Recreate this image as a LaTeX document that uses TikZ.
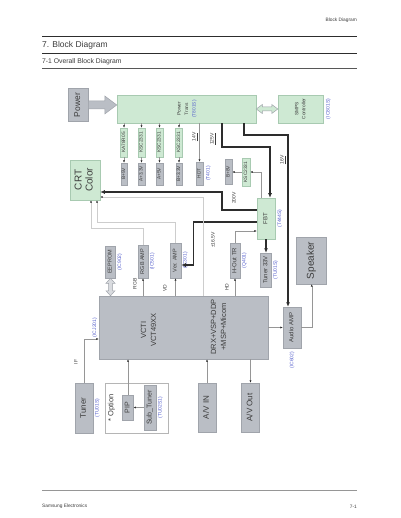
\documentclass[tikz,border=0pt]{standalone}
\usepackage{fontspec}
\setmainfont{Liberation Sans}
\usepackage{graphicx}
\usetikzlibrary{arrows.meta,positioning,calc}
\definecolor{boxgray}{RGB}{186,190,197}
\definecolor{gedge}{RGB}{160,164,171}
\definecolor{boxgreen}{RGB}{206,233,211}
\definecolor{gredge}{RGB}{168,202,177}
\definecolor{icblue}{RGB}{88,98,205}
\definecolor{linedark}{RGB}{45,45,45}
\definecolor{linegray}{RGB}{150,150,150}
\definecolor{linelight}{RGB}{205,205,205}
\definecolor{txtgray}{RGB}{60,60,60}
\newcommand{\vtxt}[1]{\rotatebox{90}{\begin{tabular}{@{}c@{}}#1\end{tabular}}}
\newcommand{\fsz}[2]{\fontsize{#1}{#2}\selectfont}
\tikzset{
  gbox/.style={draw=gedge, fill=boxgray, inner sep=0pt, text=txtgray, line width=0.5pt},
  grbox/.style={draw=gredge, fill=boxgreen, inner sep=0pt, text=txtgray, line width=0.5pt},
  ic/.style={rotate=90, text=icblue, inner sep=0pt, font=\fsz{5}{6}},
  vlab/.style={rotate=90, text=txtgray, inner sep=0pt, font=\fsz{5}{6}},
  bigtxt/.style={text=txtgray, inner sep=0pt, font=\fsz{7.5}{10}},
  thk/.style={-{Latex[length=4.5pt,width=4pt]}, linedark, line width=1.1pt},
  thn/.style={-{Latex[length=2.4pt,width=2pt,color=linedark]}, linegray, line width=0.4pt},
  lit/.style={-{Latex[length=2.4pt,width=2pt,color=linedark]}, linelight, line width=0.5pt},
  fatarr/.style={fill=boxgray, draw=gedge, line width=0.5pt},
  dblgr/.style={fill=boxgreen, draw=gedge, line width=0.5pt},
  dblgy/.style={fill=boxgray!55, draw=gedge, line width=0.5pt},
}

\begin{document}
\begin{tikzpicture}[x=1pt, y=-1pt]
  \useasboundingbox[fill=white] (0,0) rectangle (400,518);
  % page head
  \node[anchor=east, inner sep=0pt, text=txtgray, font=\fsz{4.8}{5}] (hdr) at (357,20.5) {Block Diagram};
  \draw[linedark, line width=1.6pt] (42,36.5) -- (357,36.5);
  \node[anchor=west, inner sep=0pt, text=txtgray, font=\fsz{8.5}{9}] (ttl) at (42,45.5) {7. Block Diagram};
  \draw[linedark, line width=0.7pt] (42,53) -- (357,53);
  \node[anchor=west, inner sep=0pt, text=txtgray, font=\fsz{6.8}{7}] (sttl) at (42,61.5) {7-1 Overall Block Diagram};
  \draw[linedark!80, line width=1pt] (42,69) -- (357,69);
  % page foot
  \draw[linegray, line width=0.7pt] (42,490.5) -- (357,490.5);
  \node[anchor=west, inner sep=0pt, text=txtgray, font=\fsz{4.8}{5}] (ftl) at (42,506.5) {Samsung Electronics};
  \node[anchor=east, inner sep=0pt, text=txtgray, font=\fsz{4.8}{5}] (ftr) at (357,506.5) {7-1};

  % power section
  \node[gbox, minimum width=20, minimum height=33, font=\fsz{8.5}{10}] (pwr) at (78,105) {\vtxt{Power}};
  \node[grbox, minimum width=139, minimum height=28, font=\fsz{4.8}{7.5}] (ptr) at (186.5,109) {\vtxt{Power\\Trans\\\textcolor{icblue}{(T801S)}}};
  \node[grbox, minimum width=45, minimum height=28, font=\fsz{4.8}{7}] (smps) at (300.5,109) {\vtxt{SMPS\\Controller}};
  \node[ic] (smps-ic) at ([xshift=5]smps.east) {(IC801S)};
  \coordinate (pa0) at (pwr.east);
  \coordinate (pa1) at (ptr.west |- pwr.east);
  \draw[fatarr] ($(pa0)+(0,-4)$) -- ($(pa1)+(-12,-4)$) -- ($(pa1)+(-12,-9)$) -- (pa1)
    -- ($(pa1)+(-12,9)$) -- ($(pa1)+(-12,4)$) -- ($(pa0)+(0,4)$) -- cycle;
  \coordinate (da0) at (ptr.east);
  \coordinate (da1) at (smps.west);
  \draw[dblgr] (da0) -- ($(da0)+(6,-4.5)$) -- ($(da0)+(6,-2)$) -- ($(da1)+(-6,-2)$) -- ($(da1)+(-6,-4.5)$)
    -- (da1) -- ($(da1)+(-6,4.5)$) -- ($(da1)+(-6,2)$) -- ($(da0)+(6,2)$) -- ($(da0)+(6,4.5)$) -- cycle;

  % regulators
  \node[grbox, minimum width=7, minimum height=29, font=\fsz{4.8}{5}] (rg1) at (124,142.5) {\vtxt{KA78R05}};
  \node[grbox, minimum width=7, minimum height=29, font=\fsz{4.8}{5}] (rg2) at (141.5,142.5) {\vtxt{KSC2331}};
  \node[grbox, minimum width=7, minimum height=29, font=\fsz{4.8}{5}] (rg3) at (159.5,142.5) {\vtxt{KSC2331}};
  \node[grbox, minimum width=7, minimum height=29, font=\fsz{4.8}{5}] (rg4) at (179,142.5) {\vtxt{KSC2331}};
  \node[gbox, minimum width=6.5, minimum height=22, font=\fsz{4.8}{5}] (o1) at (124,174) {\vtxt{B+5V}};
  \node[gbox, minimum width=6.5, minimum height=22, font=\fsz{4.8}{5}] (o2) at (141.5,174) {\vtxt{A+3.3V}};
  \node[gbox, minimum width=6.5, minimum height=22, font=\fsz{4.8}{5}] (o3) at (159.5,174) {\vtxt{A+5V}};
  \node[gbox, minimum width=6.5, minimum height=22, font=\fsz{4.8}{5}] (o4) at (179,174) {\vtxt{B+3.3V}};
  \draw[thn] (ptr.south -| rg1) -- (rg1);
  \draw[thn] (ptr.south -| rg2) -- (rg2);
  \draw[thn] (ptr.south -| rg3) -- (rg3);
  \draw[thn] (ptr.south -| rg4) -- (rg4);
  \draw[thn] (rg1) -- (o1);
  \draw[thn] (rg2) -- (o2);
  \draw[thn] (rg3) -- (o3);
  \draw[thn] (rg4) -- (o4);
  \node[gbox, minimum width=7, minimum height=23, font=\fsz{4.8}{5}] (hdt) at (199.5,173.5) {\vtxt{HDT}};
  \node[ic] (hdt-ic) at ([xshift=5]hdt.east) {(T401)};
  \draw[thn] (ptr.south -| hdt) -- (hdt);
  \node[vlab] (v14) at (195,137) {\underline{14V}};
  \node[vlab] (v125) at (213,139) {\underline{125V}};
  \node[vlab] (v16) at (283,160) {\underline{16V}};

  % FBT section
  \node[gbox, minimum width=7, minimum height=25, font=\fsz{4.8}{5}] (b8) at (228.5,172) {\vtxt{B+8V}};
  \node[grbox, minimum width=8, minimum height=28, font=\fsz{4.8}{5}] (k8) at (246,172) {\vtxt{KSC2331}};
  \node[grbox, minimum width=18, minimum height=41, font=\fsz{6}{7}] (fbt) at (266,218.5) {\vtxt{FBT}};
  \node[ic] (fbt-ic) at ([xshift=4.5]fbt.east) {(T444S)};
  \draw[thn] (k8) -- (b8);
  \draw[thn] ([xshift=-4.5]fbt.north) |- (k8);
  \node[vlab] (v200) at (234,198) {200V};
  \draw[thk] (ptr.south -| 222,0) |- (270,147) -- (fbt.north -| 270,0);
  \node[gbox, minimum width=10.7, minimum height=34, font=\fsz{6}{7}] (tun33) at (266,270) {\vtxt{Tuner 33V}};
  \node[ic] (tun33-ic) at ([xshift=4]tun33.east) {(TU01S)};
  \draw[thk] (fbt) -- (tun33);
  \node[gbox, minimum width=10, minimum height=35, font=\fsz{6}{7}] (hout) at (235,260.5) {\vtxt{H-Out TR}};
  \node[ic] (hout-ic) at ([xshift=4]hout.east) {(Q401)};
  \draw[thn] (hout.north) |- (fbt.west |- 0,231);
  \node[vlab] (v165) at (213,240) {±16.5V};

  % CRT section
  \node[grbox, minimum width=30, minimum height=40, font=\fsz{10}{11}] (crt) at (85,180) {\vtxt{CRT\\Color}};
  \draw[thk] (fbt.west |- 0,210) -| (222,192) -- (crt.east |- 0,192);
  \node[gbox, minimum width=11, minimum height=35, font=\fsz{5.5}{6}] (ver) at (175.5,260.5) {\vtxt{Ver. AMP}};
  \node[ic] (ver-ic) at ([xshift=4]ver.east) {(IC301)};
  \node[gbox, minimum width=10, minimum height=33, font=\fsz{5.5}{6}] (rgb) at (143,261.5) {\vtxt{RGB AMP}};
  \node[ic] (rgb-ic) at ([xshift=4]rgb.east) {(IC501)};
  \node[gbox, minimum width=10, minimum height=32, font=\fsz{5.5}{6}] (eep) at (110.5,262) {\vtxt{EEPROM}};
  \node[ic] (eep-ic) at ([xshift=4]eep.east) {(IC902)};
  \draw[thk] (fbt.west |- 0,222) -| (193.3,265) -- (ver.east |- 0,265);
  \draw[lit] (rgb.north) |- (91,228) -- (crt.south -| 91,0);
  \draw[lit] (ver.north) |- (97,222) -- (crt.south -| 97,0);

  % main chip
  \node[gbox, minimum width=169, minimum height=63] (vct) at (183.5,327.5) {};
  \node[bigtxt] (vct-a) at (149,330) {\vtxt{VCTI\\VCT49XX}};
  \node[bigtxt] (vct-b) at (219,327) {\vtxt{DRX+VSP+DDP\\+MSP+Micom}};
  \node[ic] (vct-ic) at ([xshift=-4]vct.west) {(ICJ201)};
  \coordinate (ea0) at (eep.south);
  \coordinate (ea1) at (eep.south |- vct.north);
  \draw[dblgy] (ea0) -- ($(ea0)+(-4.5,5)$) -- ($(ea0)+(-2,5)$) -- ($(ea1)+(-2,-5)$) -- ($(ea1)+(-4.5,-5)$)
    -- (ea1) -- ($(ea1)+(4.5,-5)$) -- ($(ea1)+(2,-5)$) -- ($(ea0)+(2,5)$) -- ($(ea0)+(4.5,5)$) -- cycle;
  \draw[thn] (vct.north -| rgb) -- (rgb);
  \draw[thn] (vct.north -| ver) -- (ver);
  \draw[thn] (vct.north -| hout) -- (hout);
  \draw[lit] (vct.north -| 203,0) |- (crt.east |- 0,197);
  \node[vlab] (l-rgb) at (135,284) {RGB};
  \node[vlab] (l-vd) at (165,288) {VD};
  \node[vlab] (l-hd) at (227,287) {HD};

  % audio
  \node[gbox, minimum width=18, minimum height=41, font=\fsz{6}{7}] (aud) at (292,327.5) {\vtxt{Audio AMP}};
  \node[ic] (aud-ic) at ([yshift=-12]aud.south) {(IC602)};
  \node[gbox, minimum width=30, minimum height=47, font=\fsz{10}{11}] (spk) at (311.7,260.5) {\vtxt{Speaker}};
  \draw[thk] (ptr.south -| 244,0) |- (288,135) -- (aud.north -| 288,0);
  \draw[thn] (vct.east |- aud) -- (aud);
  \draw[thn] (aud) -| (spk);

  % inputs and outputs
  \node[gbox, minimum width=18, minimum height=50, font=\fsz{8}{9}] (tun) at (84,408) {\vtxt{Tuner}};
  \node[ic] (tun-ic) at ([xshift=4]tun.east) {(TU01S)};
  \draw[thn] (tun) |- (vct.west |- 0,339);
  \node[vlab] (l-if) at (76,362) {IF};
  \node[draw=linegray!70, fill=white, line width=0.4pt, inner sep=0pt, minimum width=63, minimum height=50] (opt) at (136.5,408) {};
  \node[bigtxt, font=\fsz{7.5}{8}] (opt-t) at (111.7,408) {\vtxt{* Option}};
  \node[gbox, minimum width=10.6, minimum height=25, font=\fsz{7}{8}] (pip) at (128,407.5) {\vtxt{PIP}};
  \node[gbox, minimum width=12, minimum height=45, font=\fsz{7}{8}] (sub) at (150,407.5) {\vtxt{Sub\_Tuner}};
  \node[ic] (sub-ic) at ([xshift=4]sub.east) {(TU02S1)};
  \draw[thn] (sub) -- (pip);
  \draw[thn] (pip) -- (pip |- vct.south);
  \node[gbox, minimum width=18, minimum height=49, font=\fsz{8}{9}] (avin) at (207,407.5) {\vtxt{A/V IN}};
  \node[gbox, minimum width=18, minimum height=49, font=\fsz{8}{9}] (avout) at (250.5,407.5) {\vtxt{A/V Out}};
  \draw[thn] (avin) -- (avin |- vct.south);
  \draw[thn] (vct.south -| avout) -- (avout);
\end{tikzpicture}
\end{document}
